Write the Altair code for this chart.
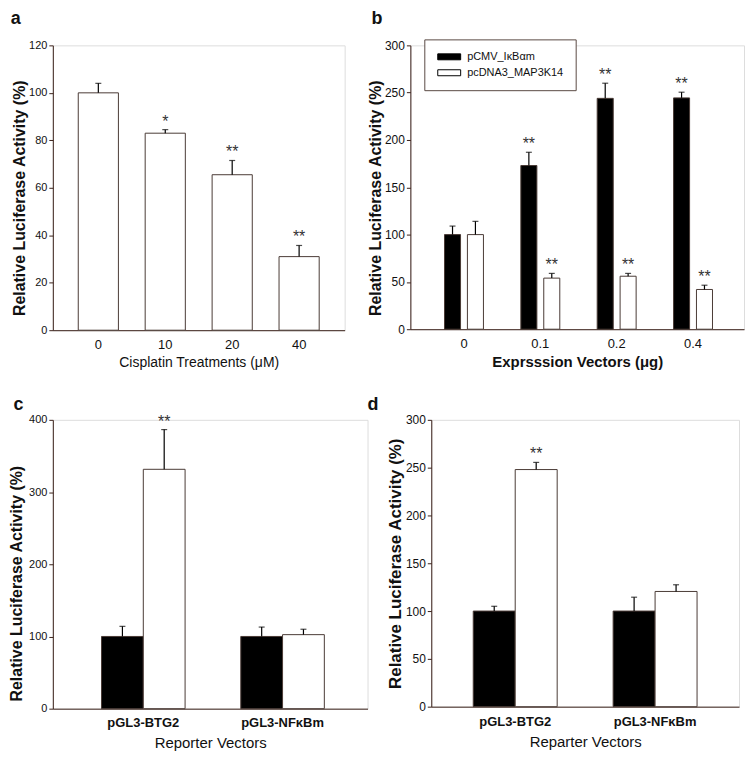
import altair as alt
import pandas as pd

# ---------------- data ----------------
# Panel a
a_dose = ["0", "10", "20", "40"]
a_mean = [100, 83, 65.5, 31]
a_err = [4, 1.5, 6, 4.7]
a_star = ["", "*", "**", "**"]

# Panel b
b_dose = ["0", "0.1", "0.2", "0.4"]
b_series = ["pCMV_IκBαm", "pcDNA3_MAP3K14"]
b_mean_1 = [100, 173, 244, 244.5]
b_err_1 = [9, 14, 16, 6]
b_star_1 = ["", "**", "**", "**"]
b_mean_2 = [100, 54, 56, 42]
b_err_2 = [14, 5, 3, 4.5]
b_star_2 = ["", "**", "**", "**"]

# Panel c
c_reporter = ["pGL3-BTG2", "pGL3-NFκBm"]
c_mean_1 = [100, 100]
c_err_1 = [14, 13]
c_star_1 = ["", ""]
c_mean_2 = [331.5, 102.5]
c_err_2 = [55, 7.5]
c_star_2 = ["**", ""]

# Panel d
d_mean_1 = [100, 100]
d_err_1 = [5, 14.5]
d_star_1 = ["", ""]
d_mean_2 = [248, 120.5]
d_err_2 = [7.5, 7]
d_star_2 = ["**", ""]

# ---------------- style ----------------
REG = "Liberation Sans"
AXC = "#3a2019"
BAR_STROKE = "#4a3a35"
YTITLE = "Relative Luciferase Activity (%)"


def single_df(cats, mean, err, star):
    return pd.DataFrame({"cat": cats, "mean": mean,
                         "top": [m + e for m, e in zip(mean, err)], "star": star})


def group_df(cats, series, m1, e1, s1, m2, e2, s2):
    rows = []
    for i, c in enumerate(cats):
        rows.append({"cat": c, "series": series[0], "mean": m1[i], "top": m1[i] + e1[i], "star": s1[i]})
        rows.append({"cat": c, "series": series[1], "mean": m2[i], "top": m2[i] + e2[i], "star": s2[i]})
    return pd.DataFrame(rows)


def y_axis(step, ymax, lab_size, title_size, title_pad, title_y=None):
    kw = {}
    if title_y is not None:
        kw["titleY"] = title_y
    return alt.Axis(values=list(range(0, ymax + 1, step)), grid=False, domainColor=AXC,
                    tickColor=AXC, tickSize=4, labelFont=REG, labelFontSize=lab_size,
                    labelColor="#111", labelPadding=2, titleFont=REG, titleFontSize=title_size,
                    titleFontWeight="bold", titleColor="#111", titlePadding=title_pad, **kw)


def x_axis(lab_size, lab_weight, title_size, title_weight, lab_pad, title_pad):
    return alt.Axis(ticks=False, grid=False, domainColor=AXC, labelAngle=0, labelFont=REG,
                    labelFontSize=lab_size, labelFontWeight=lab_weight, labelColor="#111",
                    labelPadding=lab_pad, titleFont=REG, titleFontSize=title_size,
                    titleFontWeight=title_weight, titleColor="#111", titlePadding=title_pad)


def letter(t, dx, offset):
    return alt.TitleParams(t, anchor="start", font=REG, fontSize=18, fontWeight="bold",
                           color="#111", dx=dx, offset=offset)


# ---------------- panel a ----------------
dfa = single_df(a_dose, a_mean, a_err, a_star)
xa = alt.X("cat:N", sort=a_dose, title="Cisplatin Treatments (μM)",
           scale=alt.Scale(paddingInner=0.4, paddingOuter=0.38),
           axis=x_axis(13, "normal", 14, "normal", 8, 4))
ya = alt.Y("mean:Q", title=YTITLE, scale=alt.Scale(domain=[0, 120], nice=False),
           axis=y_axis(20, 120, 11, 16, 1, 153))
base_a = alt.Chart(dfa)
pa = alt.layer(
    base_a.mark_bar(fill="white", stroke=BAR_STROKE, strokeWidth=1).encode(x=xa, y=ya),
    base_a.mark_rule(color="black", strokeWidth=1.2).encode(x="cat:N", y="mean:Q", y2="top:Q"),
    base_a.mark_tick(color="black", size=6, thickness=1.2).encode(x="cat:N", y="top:Q"),
    base_a.mark_text(font=REG, fontSize=16, color="#333", baseline="alphabetic", dy=-3).encode(
        x="cat:N", y="top:Q", text="star:N"),
).properties(width=293, height=286, title=letter("a", -1, 11.5))


# ---------------- grouped panels ----------------
def grouped(df, cats, ymax, width, height, xscale, offpad, xtitle, xax, yax,
            title, legend=None):
    base = alt.Chart(df)
    x = alt.X("cat:N", sort=cats, title=xtitle, scale=xscale, axis=xax)
    xo = alt.XOffset("series:N", sort=b_series,
                     scale=alt.Scale(paddingInner=offpad, paddingOuter=0))
    y = alt.Y("mean:Q", title=YTITLE, scale=alt.Scale(domain=[0, ymax], nice=False), axis=yax)
    fill_kw = {"scale": alt.Scale(domain=b_series, range=["black", "white"])}
    if legend is None:
        fill = alt.Fill("series:N", legend=None, **fill_kw)
    else:
        fill = alt.Fill("series:N", legend=legend, title=None, **fill_kw)
    return alt.layer(
        base.mark_bar(stroke=BAR_STROKE, strokeWidth=1).encode(x=x, xOffset=xo, y=y, fill=fill),
        base.mark_rule(color="black", strokeWidth=1.2).encode(
            x="cat:N", xOffset=xo, y="mean:Q", y2="top:Q"),
        base.mark_tick(color="black", size=6, thickness=1.2).encode(
            x="cat:N", xOffset=xo, y="top:Q"),
        base.mark_text(font=REG, fontSize=16, color="#333", baseline="alphabetic", dy=-3).encode(
            x="cat:N", xOffset=xo, y="top:Q", text="star:N"),
    ).properties(width=width, height=height, title=title)


legend_b = alt.Legend(orient="none", legendX=373, legendY=-6, direction="vertical",
                      symbolType="M-1,-0.75L4.75,-0.75L4.75,0.75L-1,0.75Z", symbolSize=64,
                      symbolStrokeColor="black", symbolStrokeWidth=1, labelFont=REG,
                      labelFontSize=11, labelColor="#111", labelOffset=20, rowPadding=4,
                      padding=12, strokeColor="#5a4a44", fillColor="white")

dfb = group_df(b_dose, b_series, b_mean_1, b_err_1, b_star_1, b_mean_2, b_err_2, b_star_2)
pb = grouped(dfb, b_dose, 300, 335, 285,
             alt.Scale(paddingInner=0.49, paddingOuter=0.43, align=0.52), 0.3,
             "Exprsssion Vectors (μg)",
             x_axis(13, "normal", 15, "bold", 8, 4),
             y_axis(50, 300, 12, 16, 1, 153), letter("b", 4, 11.5), legend=legend_b)

dfc = group_df(c_reporter, b_series, c_mean_1, c_err_1, c_star_1, c_mean_2, c_err_2, c_star_2)
pc = grouped(dfc, c_reporter, 400, 316, 290,
             alt.Scale(paddingInner=0.4, paddingOuter=0.33, align=0.53), 0.0,
             "Reporter Vectors",
             x_axis(13, "bold", 15, "normal", 8, 6),
             y_axis(100, 400, 11, 16, 4, 164), letter("c", 5, 0))

dfd = group_df(c_reporter, b_series, d_mean_1, d_err_1, d_star_1, d_mean_2, d_err_2, d_star_2)
pd_ = grouped(dfd, c_reporter, 300, 309, 288,
              alt.Scale(paddingInner=0.4, paddingOuter=0.30), 0.0,
              "Reparter Vectors",
              x_axis(13, "bold", 15, "normal", 9, 6),
              y_axis(50, 300, 12, 17, 1), letter("d", -19, 0))

chart = alt.concat(
    pa, pb, pc, pd_, columns=2, align="none", spacing={"row": 25, "column": -2},
).resolve_scale(xOffset="independent").properties(
    padding={"left": 0, "top": 0, "right": 0, "bottom": 0}
).configure_view(strokeWidth=0).configure(background="white")

chart.save("out.html", embed_options={"renderer": "svg", "actions": False})
